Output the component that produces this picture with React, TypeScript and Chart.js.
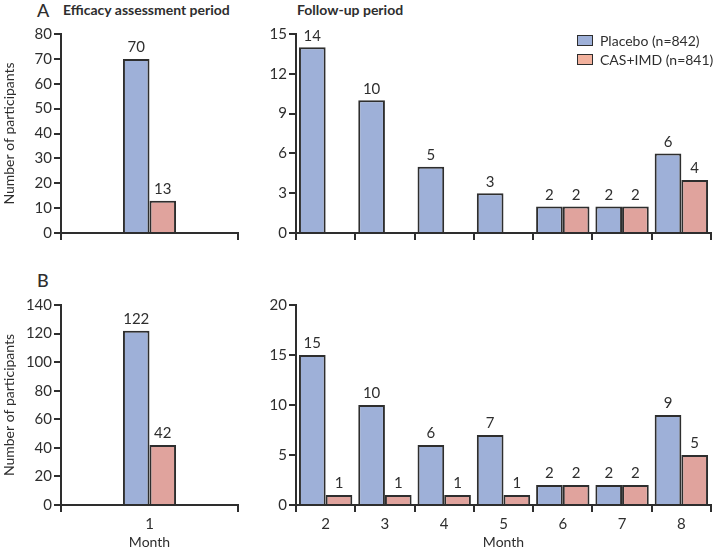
import React, { useEffect, useRef } from 'react';
import { Chart, registerables } from 'chart.js';

Chart.register(...registerables);

// ---------- data ----------
const seriesNames = ['Placebo (n=842)', 'CAS+IMD (n=841)'];
const efficacyMonths = ['1'];
const followMonths = ['2', '3', '4', '5', '6', '7', '8'];

const aEffPlacebo = [70];
const aEffCas = [13];
const aFollowPlacebo = [14, 10, 5, 3, 2, 2, 6];
const aFollowCas = [0, 0, 0, 0, 2, 2, 4];

const bEffPlacebo = [122];
const bEffCas = [42];
const bFollowPlacebo = [15, 10, 6, 7, 2, 2, 9];
const bFollowCas = [1, 1, 1, 1, 2, 2, 5];

const aEffAxis = [0, 80, 10];
const aFollowAxis = [0, 15, 3];
const bEffAxis = [0, 140, 20];
const bFollowAxis = [0, 20, 5];

// ---------- style ----------
const FONT = 'Lato, "Open Sans", sans-serif';
const INK = '#2e2e2e';
const PLACEBO_FILL = '#9eb0d8';
const CAS_FILL = '#e0a39d';
const CAS_LEGEND = '#f2b19d';

const valueLabels = {
  id: 'valueLabels',
  afterDatasetsDraw(chart: any) {
    const ctx = chart.ctx;
    ctx.save();
    ctx.font = `15px ${FONT}`;
    ctx.fillStyle = INK;
    ctx.textAlign = 'center';
    ctx.textBaseline = 'bottom';
    chart.data.datasets.forEach((ds: any, di: number) => {
      const meta = chart.getDatasetMeta(di);
      meta.data.forEach((el: any, i: number) => {
        const v = ds.data[i];
        if (v === null || v === undefined || v === 0) return;
        ctx.fillText(String(v), el.x, el.y - 4);
      });
    });
    ctx.restore();
  },
};

type Rect = { left: number; top: number; width: number; height: number };
type Area = { left: number; top: number; right: number; bottom: number };

function Panel(props: {
  box: Rect;
  area: Area;
  labels: string[];
  placebo: number[];
  cas: number[];
  axis: number[];
  showX: boolean;
  yTitle?: string;
  xTitle?: string;
  catPct: number;
}) {
  const ref = useRef<HTMLCanvasElement>(null);
  const { box, area } = props;
  useEffect(() => {
    const padTop = area.top - box.top;
    const padRight = box.left + box.width - area.right;
    const yW = area.left - box.left;
    const xH = box.top + box.height - area.bottom;
    const chart = new Chart(ref.current as HTMLCanvasElement, {
      type: 'bar',
      data: {
        labels: props.labels,
        datasets: [
          {
            label: seriesNames[0],
            data: props.placebo,
            backgroundColor: PLACEBO_FILL,
            borderColor: INK,
            borderWidth: 2,
            categoryPercentage: props.catPct,
            barPercentage: 1,
          },
          {
            label: seriesNames[1],
            data: props.cas,
            backgroundColor: CAS_FILL,
            borderColor: INK,
            borderWidth: 2,
            categoryPercentage: props.catPct,
            barPercentage: 1,
          },
        ],
      },
      options: {
        responsive: false,
        animation: false,
        layout: { padding: { top: padTop, right: padRight, left: 0, bottom: 0 } },
        plugins: { legend: { display: false }, tooltip: { enabled: false } },
        scales: {
          x: {
            type: 'category',
            offset: true,
            grid: {
              display: true,
              drawOnChartArea: false,
              drawTicks: true,
              tickLength: 7,
              color: INK,
              lineWidth: 2,
              offset: true,
            },
            border: { display: true, color: INK, width: 2 },
            ticks: {
              display: props.showX,
              color: INK,
              font: { family: FONT, size: 15 },
              padding: 3,
            },
            title: {
              display: !!props.xTitle,
              text: props.xTitle || '',
              color: INK,
              font: { family: FONT, size: 14 },
              padding: { top: 0, bottom: 0 },
            },
            afterFit: (s: any) => {
              s.height = xH;
            },
          },
          y: {
            min: props.axis[0],
            max: props.axis[1],
            grid: {
              display: true,
              drawOnChartArea: false,
              drawTicks: true,
              tickLength: 7,
              color: INK,
              lineWidth: 2,
            },
            border: { display: true, color: INK, width: 2 },
            ticks: {
              stepSize: props.axis[2],
              color: INK,
              font: { family: FONT, size: 15 },
              padding: 2,
            },
            title: {
              display: !!props.yTitle,
              text: props.yTitle || '',
              color: INK,
              font: { family: FONT, size: 14 },
              padding: { top: 1, bottom: 0 },
            },
            afterFit: (s: any) => {
              s.width = yW;
            },
          },
        },
      } as any,
      plugins: [valueLabels],
    });
    return () => chart.destroy();
  }, []);
  return (
    <canvas
      ref={ref}
      width={box.width}
      height={box.height}
      style={{ position: 'absolute', left: box.left, top: box.top, display: 'block' }}
    />
  );
}

const textStyle = (left: number, top: number, size: number, weight: number | string) =>
  ({
    position: 'absolute',
    left,
    top,
    fontFamily: FONT,
    fontSize: size,
    fontWeight: weight,
    color: INK,
    lineHeight: 1,
    whiteSpace: 'nowrap',
  } as React.CSSProperties);

export default function App() {
  return (
    <div
      style={{
        position: 'fixed',
        left: 0,
        top: 0,
        width: 715,
        height: 551,
        background: '#fff',
        overflow: 'hidden',
      }}
    >
      <div style={textStyle(37, 1, 18, 500)}>A</div>
      <div style={textStyle(63, 3, 14, 700)}>Efficacy assessment period</div>
      <div style={textStyle(297, 3, 14, 700)}>Follow-up period</div>
      <div style={textStyle(37, 271, 18, 500)}>B</div>

      <Panel
        box={{ left: 0, top: 20, width: 250, height: 232 }}
        area={{ left: 61, top: 34, right: 238, bottom: 233 }}
        labels={efficacyMonths}
        placebo={aEffPlacebo}
        cas={aEffCas}
        axis={aEffAxis}
        showX={false}
        yTitle="Number of participants"
        catPct={0.3}
      />
      <Panel
        box={{ left: 245, top: 20, width: 470, height: 232 }}
        area={{ left: 296, top: 34, right: 711, bottom: 233 }}
        labels={followMonths}
        placebo={aFollowPlacebo}
        cas={aFollowCas}
        axis={aFollowAxis}
        showX={false}
        catPct={0.9}
      />
      <Panel
        box={{ left: 0, top: 290, width: 250, height: 261 }}
        area={{ left: 61, top: 305, right: 238, bottom: 505 }}
        labels={efficacyMonths}
        placebo={bEffPlacebo}
        cas={bEffCas}
        axis={bEffAxis}
        showX={true}
        yTitle="Number of participants"
        xTitle="Month"
        catPct={0.3}
      />
      <Panel
        box={{ left: 245, top: 290, width: 470, height: 261 }}
        area={{ left: 296, top: 305, right: 711, bottom: 505 }}
        labels={followMonths}
        placebo={bFollowPlacebo}
        cas={bFollowCas}
        axis={bFollowAxis}
        showX={true}
        xTitle="Month"
        catPct={0.9}
      />

      {/* legend */}
      <div
        style={{
          position: 'absolute',
          left: 577,
          top: 35,
          width: 14,
          height: 9,
          background: PLACEBO_FILL,
          border: `1.5px solid ${INK}`,
        }}
      />
      <div style={textStyle(600, 34, 14, 400)}>{seriesNames[0]}</div>
      <div
        style={{
          position: 'absolute',
          left: 577,
          top: 54,
          width: 14,
          height: 9,
          background: CAS_LEGEND,
          border: `1.5px solid ${INK}`,
        }}
      />
      <div style={textStyle(600, 53, 14, 400)}>{seriesNames[1]}</div>
    </div>
  );
}
